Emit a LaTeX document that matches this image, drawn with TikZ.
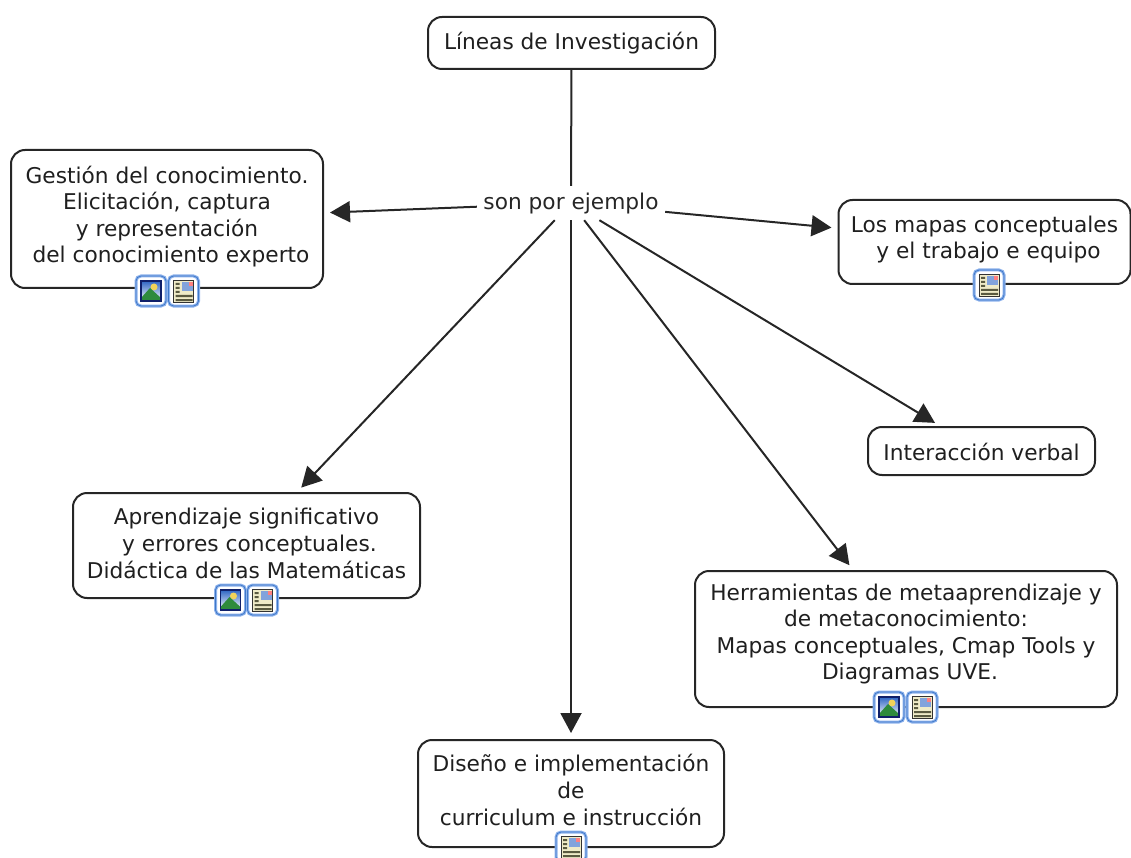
\documentclass[tikz,border=0pt]{standalone}
\usepackage{fontspec}
\setmainfont{DejaVu Sans}
\usetikzlibrary{arrows.meta}
\definecolor{ibord}{HTML}{8DB2EC}
\definecolor{ibordin}{HTML}{3F78C8}
\definecolor{inavy}{HTML}{10206A}
\definecolor{isky}{HTML}{2F66C4}
\definecolor{igreen}{HTML}{2E8B3C}
\definecolor{isun}{HTML}{F2D35A}
\definecolor{ipaper}{HTML}{EFEBC8}
\definecolor{itext}{HTML}{5A5A40}
\tikzset{
  concept/.style={draw=black!85,line width=2pt,rounded corners=14pt,fill=white,align=center,inner sep=0pt,font=\fontsize{21.7}{26.6}\selectfont,text=black!88},
  linker/.style={inner sep=0pt,font=\fontsize{21.7}{26.6}\selectfont,text=black!85,minimum width=188pt,minimum height=32pt},
  link/.style={line width=2pt,draw=black!85},
  arrowlink/.style={link,-{Triangle[length=20pt,width=21pt]},shorten >=6pt},
  iconframe/.style={draw=ibord,fill=white,line width=3pt,rounded corners=5pt},
  iconinner/.style={draw=ibordin,line width=.8pt,rounded corners=5pt},
}
\newcommand{\tsth}[1]{\rule{0pt}{#1pt}}
\newcommand{\tstd}[1]{\rule[-#1pt]{0pt}{#1pt}}
\newcommand{\imgicon}[2]{%
  \begin{scope}[shift={(#1,#2)}]
    \draw[iconframe] (0,0) rectangle (30,30);
    \draw[iconinner] (0,0) rectangle (30,30);
    \shade[top color=isky,bottom color=white] (5,5) rectangle (25,25);
    \fill[isun] (18,11) circle (3.5);
    \fill[igreen] (5,25) -- (5,22) -- (14,12) -- (25,22) -- (25,25) -- cycle;
    \draw[inavy,line width=1.2pt] (5,5) rectangle (25,25);
  \end{scope}}
\newcommand{\docicon}[2]{%
  \begin{scope}[shift={(#1,#2)}]
    \draw[iconframe] (0,0) rectangle (30,30);
    \draw[iconinner] (0,0) rectangle (30,30);
    \fill[ipaper] (5,4) rectangle (25,26);
    \fill[isky!60!white] (13,6) rectangle (24,15);
    \fill[red!50!white] (20,6) rectangle (24,10);
    \fill[itext] (7,7) rectangle (11,9) (7,11) rectangle (11,13) (7,15) rectangle (11,17);
    \fill[itext] (7,19) rectangle (24,21) (7,23) rectangle (24,25);
    \draw[black!80,line width=.8pt] (5,4) rectangle (25,26);
  \end{scope}}
\begin{document}
\begin{tikzpicture}[x=1pt,y=-1pt]
\useasboundingbox (0,0) rectangle (1131,858);
\node[concept,minimum width=287pt,minimum height=52pt] (top) at (571.5,43) {\tsth{24}Líneas de Investigación\tstd{10}};
\node[linker] (lab) at (571,203) {\tsth{24}son por ejemplo\tstd{10}};
\node[concept,minimum width=312pt,minimum height=138pt] (ges) at (167,219) {\tsth{18}Gestión del conocimiento.\\Elicitación, captura\hspace*{6pt}\\y representación\\\hspace*{8pt}del conocimiento experto\tstd{10}};
\node[concept,minimum width=292pt,minimum height=84pt] (map) at (984.5,242) {\tsth{17}Los mapas conceptuales\\\hspace*{8pt}y el trabajo e equipo\tstd{10}};
\node[concept,minimum width=227pt,minimum height=48pt] (int) at (981.5,451) {\tsth{28}Interacción verbal\tstd{10}};
\node[concept,minimum width=347pt,minimum height=105pt] (apr) at (246.5,545.5) {\tsth{22}Aprendizaje significativo\\\hspace*{6pt}y errores conceptuales.\\Didáctica de las Matemáticas\tstd{10}};
\node[concept,minimum width=422pt,minimum height=136pt] (her) at (906,639) {\tsth{18}Herramientas de metaaprendizaje y\\de metaconocimiento:\\Mapas conceptuales, Cmap Tools y\hspace*{6pt}\\\hspace*{8pt}Diagramas UVE.\tstd{16}};
\node[concept,minimum width=306pt,minimum height=107pt] (dis) at (571,793.5) {\tsth{20}Diseño e implementación\\de\\curriculum e instrucción\tstd{10}};
\draw[link] (top) -- (lab);
\draw[arrowlink] (lab) -- (ges);
\draw[arrowlink] (lab) -- (map);
\draw[arrowlink] (lab) -- (int);
\draw[arrowlink] (lab) -- (apr);
\draw[arrowlink] (lab) -- (her);
\draw[arrowlink] (lab) -- (dis);
\imgicon{136}{276}\docicon{168.5}{276}
\docicon{974}{270}
\imgicon{215.5}{585}\docicon{247.5}{585}
\imgicon{874}{692}\docicon{907}{692}
\docicon{556}{832}
\end{tikzpicture}
\end{document}
